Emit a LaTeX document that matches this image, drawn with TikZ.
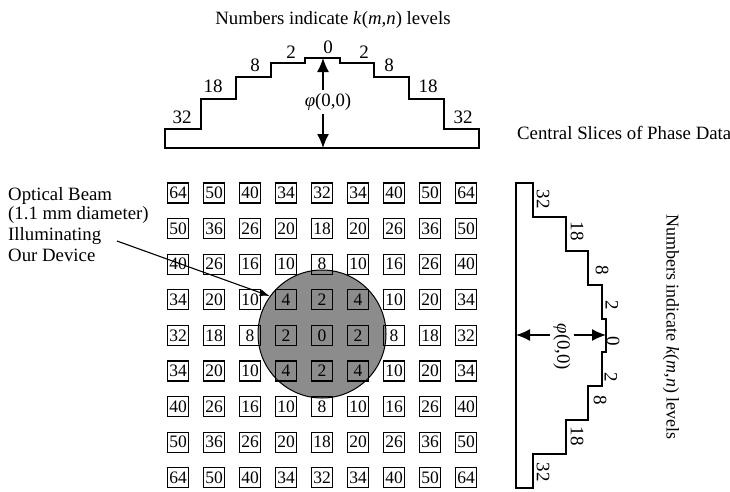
\documentclass[tikz,border=0pt]{standalone}
\usepackage{fontspec}
\setmainfont{Liberation Serif}
\usetikzlibrary{arrows.meta}
\begin{document}
\begin{tikzpicture}[x=1pt,y=-1pt,
  stair/.style={line width=1.6pt,line join=miter},
  lvl/.style={font=\fontsize{19}{22}\selectfont,inner sep=0pt},
  lvlr/.style={font=\fontsize{19}{22}\selectfont,inner sep=0pt,rotate=-90},
  cell/.style={draw,line width=1.2pt,minimum width=21pt,minimum height=20pt,inner sep=0pt,font=\fontsize{17.5}{20}\selectfont},
  txt/.style={font=\fontsize{18.8}{22}\selectfont,inner sep=0pt},
  bigarr/.style={line width=1.4pt,-{Latex[length=14pt,width=12pt]}},
  beamarr/.style={line width=1.1pt,-{Latex[length=10pt,width=7pt]}}
]
\useasboundingbox (0,0) rectangle (730,491);

% ---------- top title ----------
\node[txt,anchor=base] (ttitle) at (333,24) {Numbers indicate \textit{k}(\textit{m},\textit{n}) levels};

% ---------- top staircase ----------
\draw[stair] (165,148) -- (165,129) -- (201,129) -- (201,99) -- (236,99) -- (236,77)
  -- (271,77) -- (271,63) -- (305,63) -- (305,58) -- (340,58) -- (340,63) -- (374,63)
  -- (374,77) -- (409,77) -- (409,99) -- (444,99) -- (444,129) -- (479,129) -- (479,148) -- cycle;
\node[lvl] (t32a) at (182,117) {32};
\node[lvl] (t18a) at (213,86) {18};
\node[lvl] (t8a) at (255,65) {8};
\node[lvl] (t2a) at (291,52) {2};
\node[lvl] (t0) at (328,47) {0};
\node[lvl] (t2b) at (364,52) {2};
\node[lvl] (t8b) at (389,65) {8};
\node[lvl] (t18b) at (428,86) {18};
\node[lvl] (t32b) at (463,117) {32};
\coordinate (apexT) at (323,58);
\coordinate (baseT) at (323,148);
\node[txt,inner sep=3pt] (phiT) at (328,102) {\textit{φ}(0,0)};
\draw[bigarr] (phiT.north -| apexT) -- (apexT);
\draw[bigarr] (phiT.south -| baseT) -- (baseT);

\node[txt,anchor=base west] (central) at (517,139) {Central Slices of Phase Data};

% ---------- right staircase ----------
\draw[stair] (516,183) -- (533,183) -- (533,217) -- (566,217) -- (566,251) -- (588,251)
  -- (588,285) -- (602,285) -- (602,319) -- (606,319) -- (606,352) -- (602,352)
  -- (602,386) -- (588,386) -- (588,420) -- (566,420) -- (566,454) -- (533,454)
  -- (533,488) -- (516,488) -- cycle;
\node[lvlr] (r32a) at (543,199) {32};
\node[lvlr] (r18a) at (577,231) {18};
\node[lvlr] (r8a) at (602,270) {8};
\node[lvlr] (r2a) at (612,305) {2};
\node[lvlr] (r0) at (613,341) {0};
\node[lvlr] (r2b) at (611,377) {2};
\node[lvlr] (r8b) at (600,400) {8};
\node[lvlr] (r18b) at (577,436) {18};
\node[lvlr] (r32b) at (543,472) {32};
\coordinate (apexR) at (606,335);
\coordinate (baseR) at (516,335);
\node[txt,inner sep=3pt,rotate=-90] (phiR) at (562,347) {\textit{φ}(0,0)};
\draw[bigarr] (phiR.north |- apexR) -- (apexR);
\draw[bigarr] (phiR.south |- baseR) -- (baseR);
\node[txt,rotate=-90,font=\fontsize{18}{22}\selectfont] (rtitle) at (671,327) {Numbers indicate \textit{k}(\textit{m},\textit{n}) levels};

% ---------- beam ----------
\node[circle,draw,line width=1pt,fill=black!45,minimum size=128pt,inner sep=0pt] (beam) at (322,334) {};

% ---------- grid ----------
\foreach \i in {0,...,8} {
  \foreach \j in {0,...,8} {
    \pgfmathtruncatemacro\kval{2*((\i-4)*(\i-4)+(\j-4)*(\j-4))}
    \node[cell] (g-\i-\j) at ({178+36*\i},{193+35.6*\j}) {\kval};
  }
}

% ---------- left label ----------
\node[txt,anchor=base west] (lab1) at (8,200.5) {Optical Beam};
\node[txt,anchor=base west] (lab2) at (8,219.5) {(1.1 mm diameter)};
\node[txt,anchor=base west] (lab3) at (8,240.5) {Illuminating};
\node[txt,anchor=base west] (lab4) at (8,261.5) {Our Device};
\coordinate (bstart) at (117,241);
\draw[beamarr] (bstart) -- (beam.144);
\end{tikzpicture}
\end{document}
